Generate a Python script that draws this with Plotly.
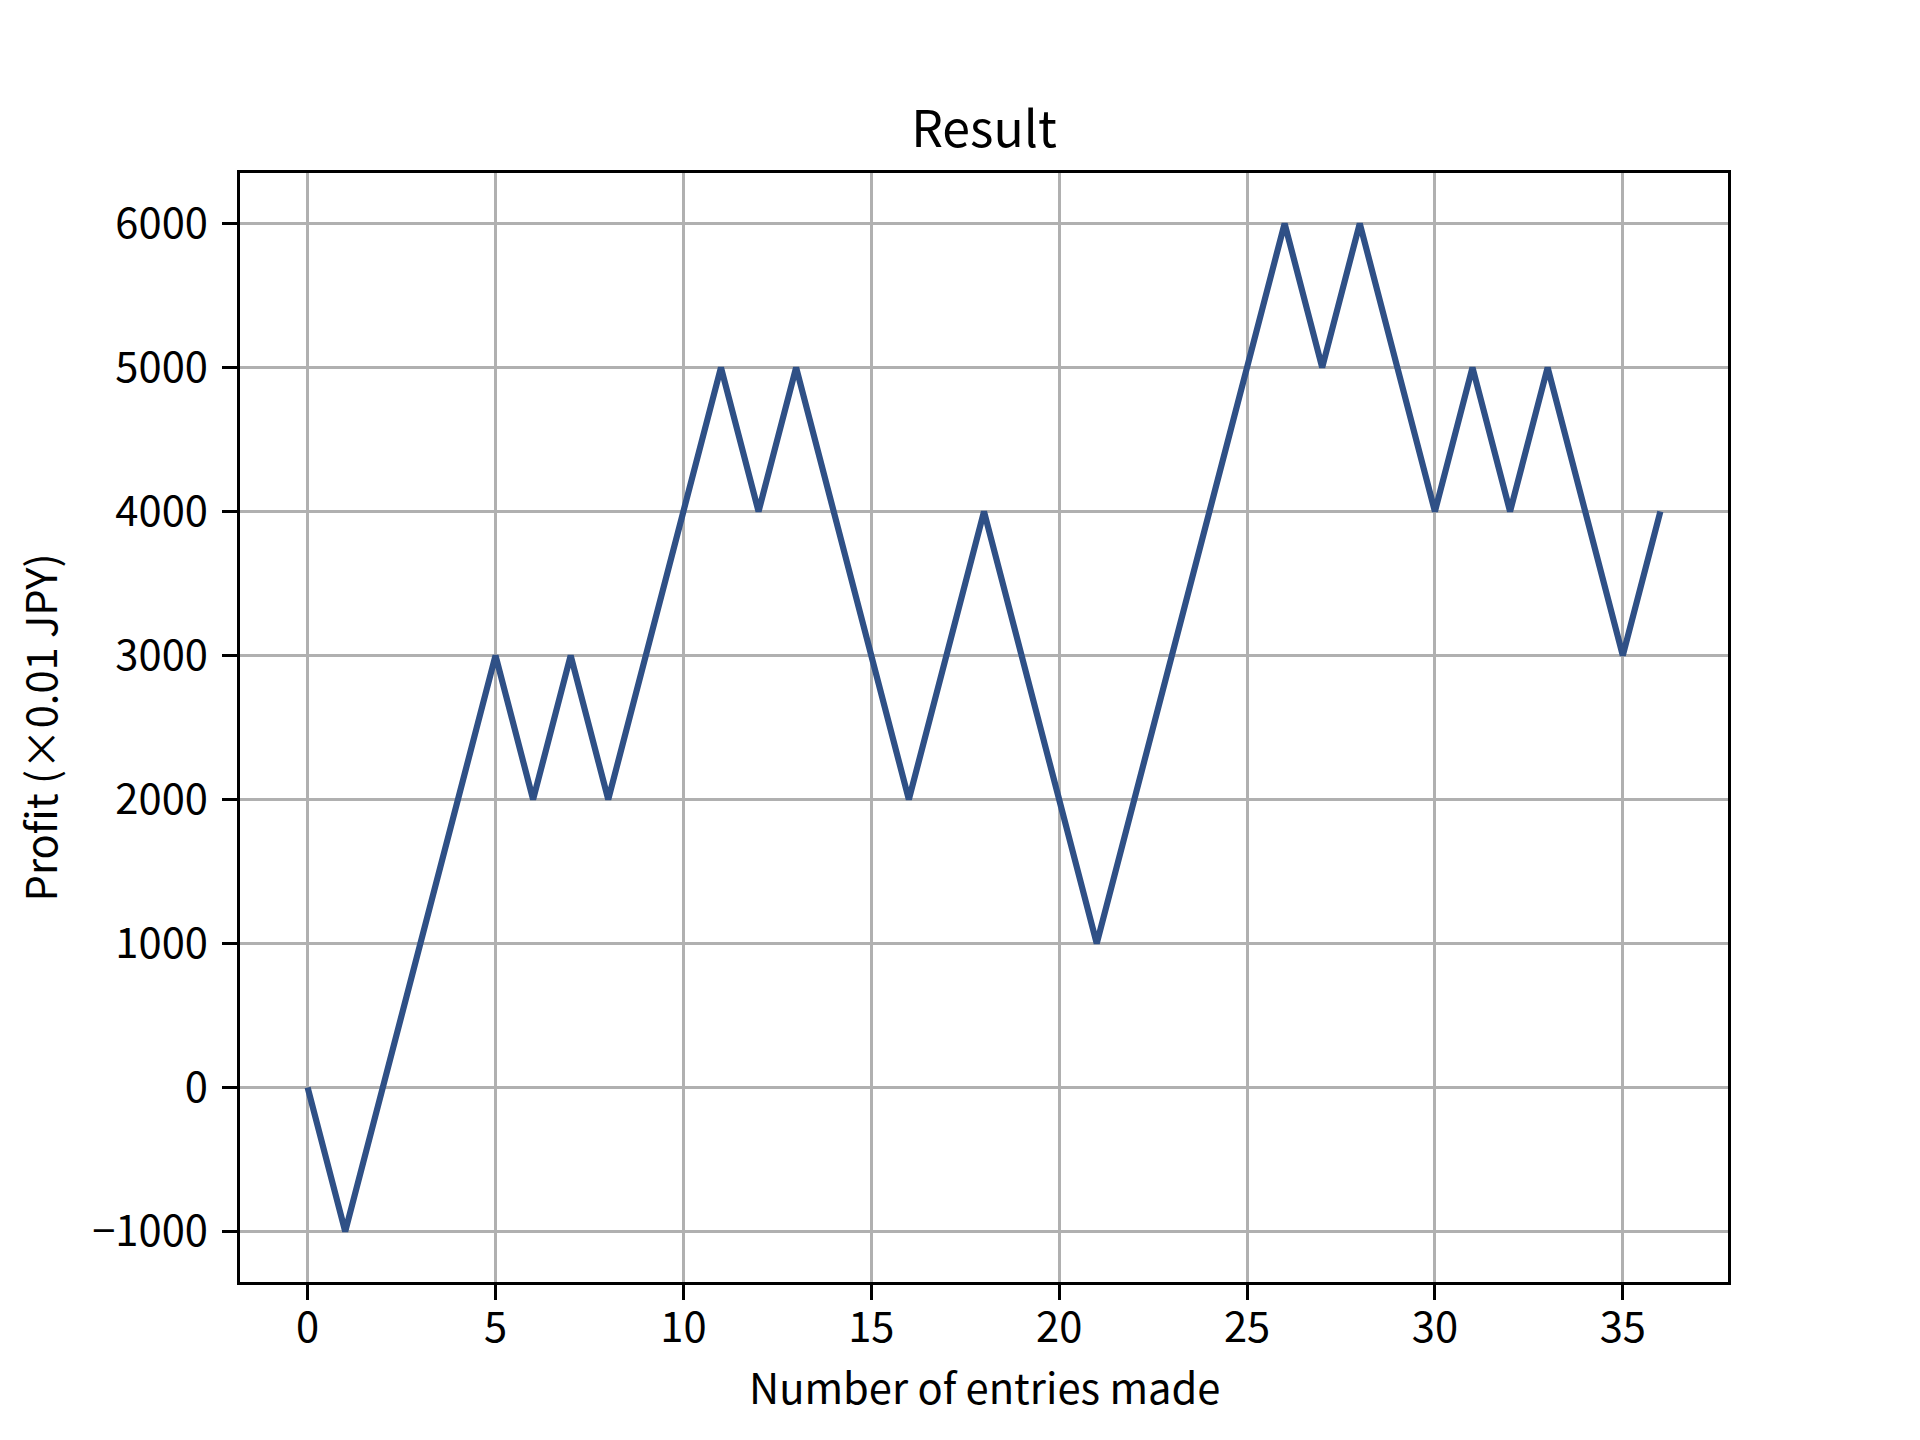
import plotly.graph_objects as go

entries = list(range(37))
profit = [0, -1000, 0, 1000, 2000, 3000, 2000, 3000, 2000, 3000, 4000, 5000, 4000, 5000,
          4000, 3000, 2000, 3000, 4000, 3000, 2000, 1000, 2000, 3000, 4000, 5000, 6000,
          5000, 6000, 5000, 4000, 5000, 4000, 5000, 4000, 3000, 4000]
x_ticks = [0, 5, 10, 15, 20, 25, 30, 35]
y_ticks = [-1000, 0, 1000, 2000, 3000, 4000, 5000, 6000]

FONT = "Noto Sans CJK JP"
W, H = 1920, 1440
# page body adds ~8px offset; compensate so the plot box lands where the reference has it
L, R, T, B = 232, 200, 164.8, 166.2

fig = go.Figure()
fig.add_trace(go.Scatter(x=entries, y=profit, mode="lines",
                         line=dict(color="#2f5086", width=6.2),
                         showlegend=False))

axis_common = dict(
    showline=True, mirror=True, linecolor="black", linewidth=3.3,
    showgrid=True, gridcolor="#b0b0b0", gridwidth=3.3,
    ticks="outside", ticklen=14.6, tickwidth=3.3, tickcolor="black",
    zeroline=False, tickfont=dict(family=FONT, size=41.7, color="black"),
)

fig.update_xaxes(range=[-1.8, 37.8], tickmode="array", tickvals=x_ticks,
                 ticklabelstandoff=-8, **axis_common)
fig.update_yaxes(range=[-1350, 6350], tickmode="array", tickvals=y_ticks,
                 ticklabelstandoff=6, **axis_common)

fig.update_layout(
    width=W, height=H,
    margin=dict(l=L, r=R, t=T, b=B, pad=0),
    plot_bgcolor="white", paper_bgcolor="white",
    font=dict(family=FONT, color="black"),
    title=dict(text="Result", x=(L + (W - L - R) / 2) / W, xanchor="center",
               y=1 - (129 - 8) / H, yanchor="middle", yref="container",
               font=dict(family=FONT, size=50, color="black")),
    annotations=[
        dict(text="Number of entries made", xref="paper", yref="paper", x=0.5, y=0,
             xanchor="center", yanchor="middle", yshift=-104, showarrow=False,
             font=dict(family=FONT, size=41.7, color="black")),
        dict(text="Profit (×0.01 JPY)", xref="paper", yref="paper", x=0, y=0.5,
             xanchor="center", yanchor="middle", xshift=-202, textangle=-90,
             showarrow=False, font=dict(family=FONT, size=41.7, color="black")),
    ],
)

fig.write_html("out.html")
